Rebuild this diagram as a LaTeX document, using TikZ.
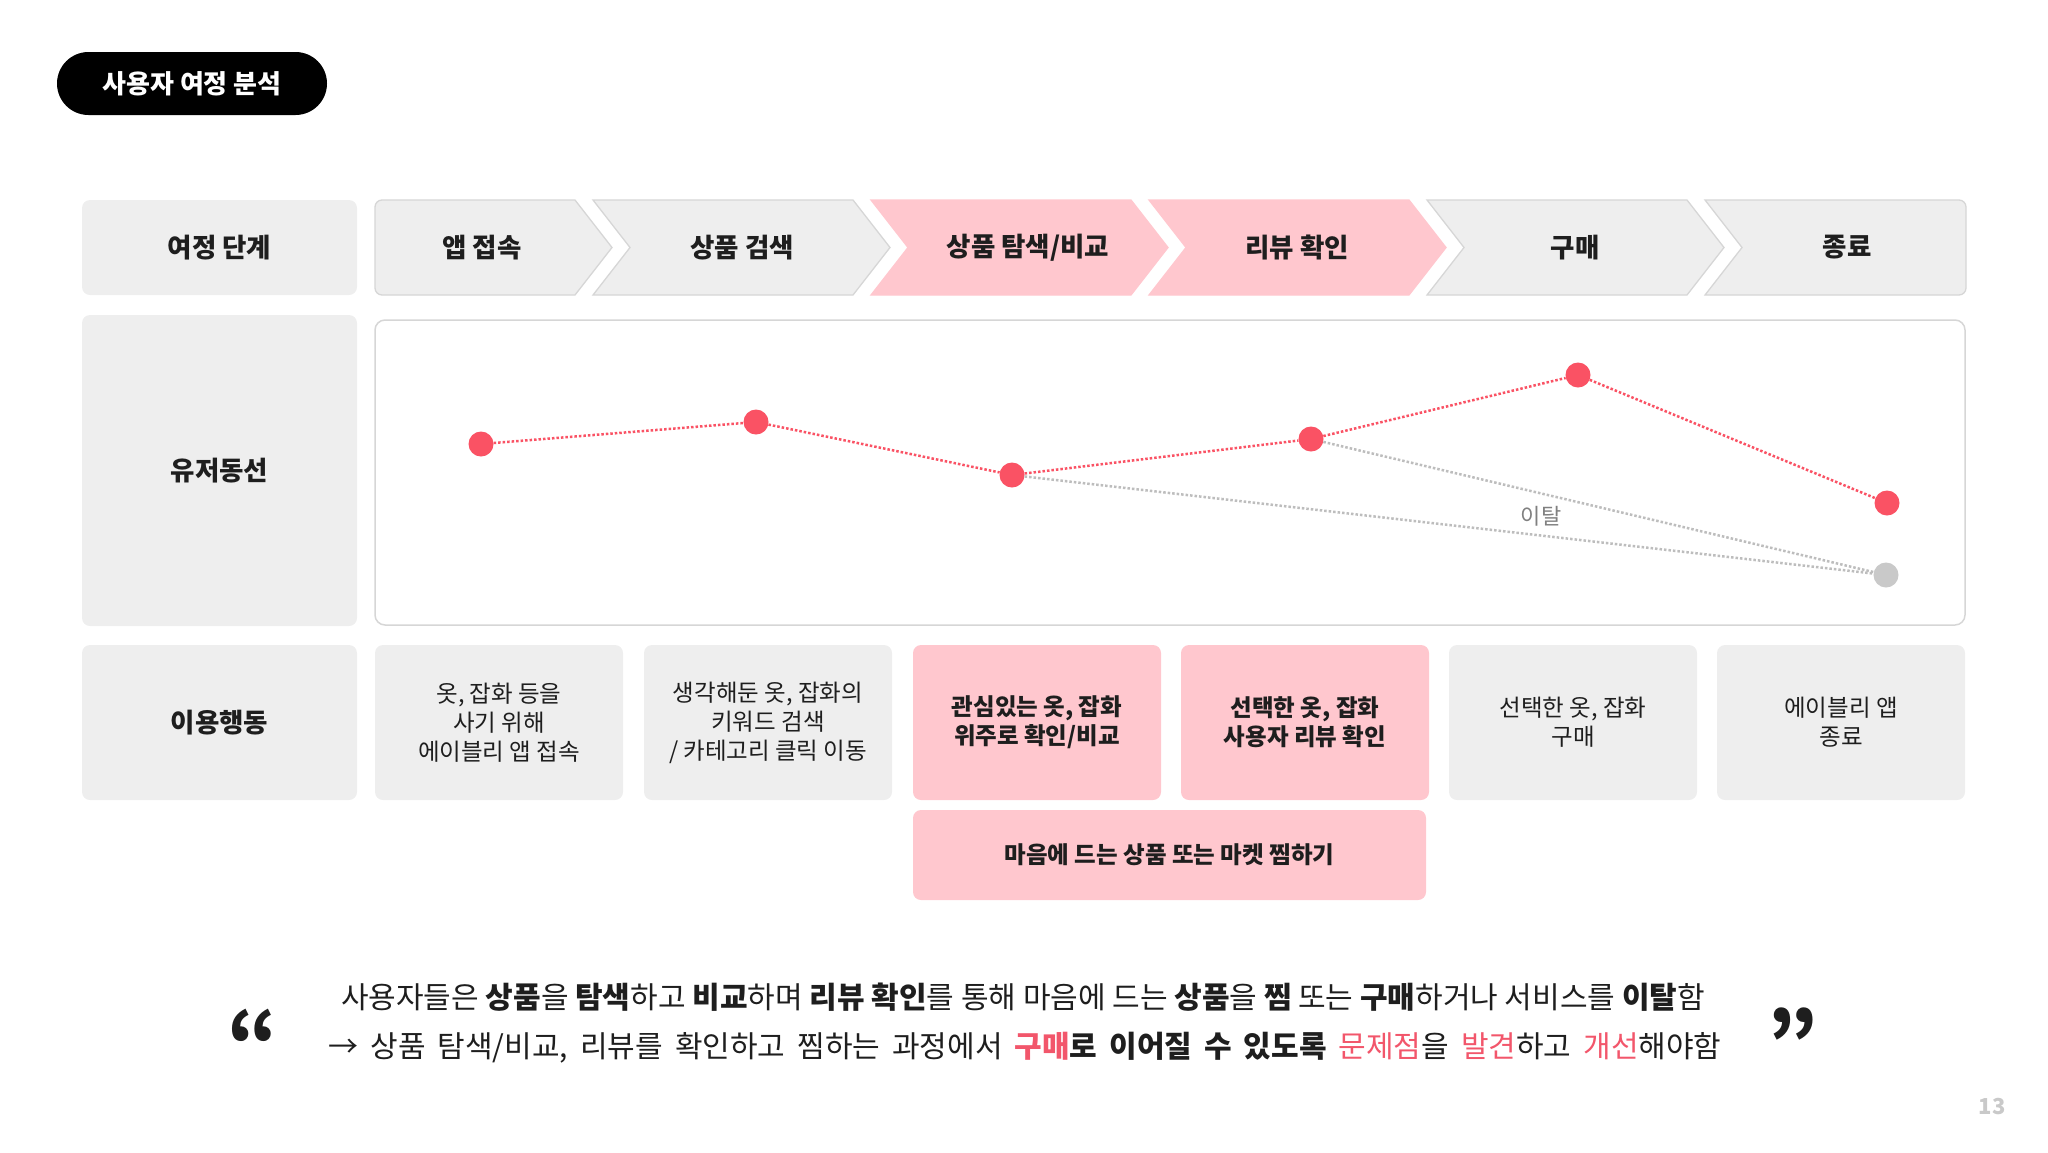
\documentclass[tikz,border=0pt]{standalone}
\usepackage{fontspec}
\setmainfont{Noto Sans CJK KR}
\usetikzlibrary{positioning}

\definecolor{boxgray}{HTML}{EEEEEE}
\definecolor{edgegray}{HTML}{D6D6D6}
\definecolor{softpink}{HTML}{FFC7CE}
\definecolor{dotred}{HTML}{FA5264}
\definecolor{dotgray}{HTML}{C9C9C9}
\definecolor{linegray}{HTML}{BDBDBD}
\definecolor{textred}{HTML}{F2566B}
\definecolor{inkdark}{HTML}{1E1E1E}

\begin{document}
\begin{tikzpicture}[
  x=1pt, y=-1pt,
  every node/.style={inner sep=0pt, text=inkdark},
  headbox/.style={fill=boxgray, rounded corners=8, minimum width=275,
    font=\fontsize{26.5}{31}\selectfont\bfseries},
  stagetext/.style={font=\fontsize{26.5}{31}\selectfont\bfseries},
  stage/.style={fill=boxgray, draw=edgegray, line width=1.3},
  hotstage/.style={fill=softpink, draw=softpink, line width=1.3},
  actbox/.style={fill=boxgray, rounded corners=8, minimum width=248,
    minimum height=155, align=center, font=\fontsize{23.5}{29}\selectfont},
  hotbox/.style={actbox, fill=softpink, font=\fontsize{23.5}{29}\selectfont\bfseries},
  reddot/.style={circle, fill=dotred, minimum size=25},
  graydot/.style={circle, fill=dotgray, minimum size=25},
  redpath/.style={draw=dotred, line width=2.5, dash pattern=on 2.5 off 2},
  graypath/.style={draw=linegray, line width=2.5, dash pattern=on 2.5 off 2},
  summary/.style={font=\fontsize{30}{36}\selectfont}
]

% Parameters (in pixels of the slide)
\def\Top{200}    % top of the stage row
\def\Bot{295}    % bottom of the stage row
\def\Mid{247.5}  % middle of the stage row
\def\D{37}       % depth of a chevron tip

\useasboundingbox (0,0) rectangle (2048,1152);

% --- Title pill ---
\node[fill=black, rounded corners=31.5, minimum width=270, minimum height=63,
  text=white, font=\fontsize{26}{30}\selectfont\bfseries] (title) at (192,83.5) {사용자 여정 분석};

% --- Row labels ---
\node[headbox, minimum height=95] (rstage) at (219.5,247.5) {여정 단계};
\node[headbox, minimum height=311] (rflow) at (219.5,470.5) {유저동선};
\node[headbox, minimum height=155] (ract) at (219.5,722.5) {이용행동};

% --- Stage chevrons ---
\filldraw[stage] (475,\Top) -- (575,\Top) -- ({575+\D},\Mid) -- (575,\Bot) -- (475,\Bot)
  [rounded corners=7] -- (375,\Bot) -- (375,\Top) -- cycle;
\foreach \L/\sty in {593/stage, 871/hotstage, 1149/hotstage, 1427/stage}{
  \filldraw[\sty] (\L,\Top) -- ({\L+260},\Top) -- ({\L+260+\D},\Mid) -- ({\L+260},\Bot)
    -- (\L,\Bot) -- ({\L+\D},\Mid) -- cycle;
}
\filldraw[stage] (1705,\Top) -- (1850,\Top) [rounded corners=7] -- (1966,\Top) -- (1966,\Bot)
  -- (1850,\Bot) [sharp corners] -- (1705,\Bot) -- ({1705+\D},\Mid) -- cycle;

\node[stagetext] (s1) at (482,\Mid) {앱 접속};
\node[stagetext] (s2) at (742,\Mid) {상품 검색};
\node[stagetext] (s3) at (1028,\Mid) {상품 탐색/비교};
\node[stagetext] (s4) at (1297,\Mid) {리뷰 확인};
\node[stagetext] (s5) at (1575,\Mid) {구매};
\node[stagetext] (s6) at (1847,\Mid) {종료};

% --- User flow chart ---
\draw[edgegray, line width=1.5, fill=white, rounded corners=10] (375,320) rectangle (1965,625);

\node[reddot] (p1) at (481,444) {};
\node[reddot] (p2) at (756,422) {};
\node[reddot] (p3) at (1012,475) {};
\node[reddot] (p4) at (1311,439) {};
\node[reddot] (p5) at (1578,375) {};
\node[reddot] (p6) at (1887,503) {};
\node[graydot] (out) at (1886,575) {};

\draw[graypath] (p3) -- (out);
\draw[graypath] (p4) -- (out);
\draw[redpath] (p1) -- (p2) -- (p3) -- (p4) -- (p5) -- (p6);
\node[text=gray, font=\fontsize{22}{26}\selectfont] (leave) at (1541,516) {이탈};

% --- Actions ---
\node[actbox] (a1) at (499,722.5) {옷, 잡화 등을\\사기 위해\\에이블리 앱 접속};
\node[actbox] (a2) at (768,722.5) {생각해둔 옷, 잡화의\\키워드 검색\\/ 카테고리 클릭 이동};
\node[hotbox] (a3) at (1037,722.5) {관심있는 옷, 잡화\\위주로 확인/비교};
\node[hotbox] (a4) at (1305,722.5) {선택한 옷, 잡화\\사용자 리뷰 확인};
\node[actbox] (a5) at (1573,722.5) {선택한 옷, 잡화\\구매};
\node[actbox] (a6) at (1841,722.5) {에이블리 앱\\종료};
\node[hotbox, minimum width=513, minimum height=90] (wish) at (1169.5,855) {마음에 드는 상품 또는 마켓 찜하기};

% --- Summary ---
\node[summary] (sum1) at (1023,997)
  {사용자들은 \textbf{상품}을 \textbf{탐색}하고 \textbf{비교}하며 \textbf{리뷰 확인}를 통해 마음에 드는 \textbf{상품}을 \textbf{찜} 또는 \textbf{구매}하거나 서비스를 \textbf{이탈}함};
\node[summary] (sum2) at (1025,1048)
  {\spaceskip=0.4em → 상품 탐색/비교, 리뷰를 확인하고 찜하는 과정에서 \textcolor{textred}{\textbf{구매}}\textbf{로 이어질 수 있도록} \textcolor{textred}{문제점}을 \textcolor{textred}{발견}하고 \textcolor{textred}{개선}해야함};
\node[font=\fontsize{80}{80}\selectfont\bfseries] (qopen) at (253,1040) {“};
\node[font=\fontsize{80}{80}\selectfont\bfseries] (qclose) at (1793,1040) {”};

\node[text=dotgray, font=\fontsize{22}{26}\selectfont\bfseries] (pnum) at (1992,1106) {13};

\end{tikzpicture}
\end{document}
